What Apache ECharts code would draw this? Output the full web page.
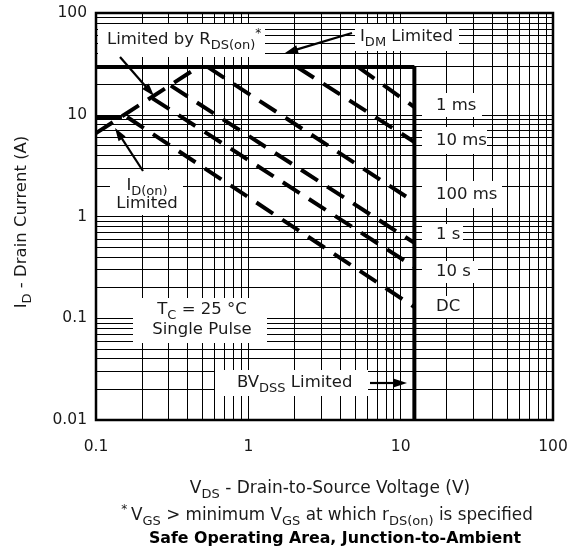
<!DOCTYPE html>
<html><head><meta charset="utf-8">
<script src="https://cdn.jsdelivr.net/npm/echarts@6/dist/echarts.min.js"></script>
<style>html,body{margin:0;padding:0;background:#fff}#c{width:574px;height:552px}</style>
</head><body><div id="c"></div>
<script>
// ---- axis ticks ----
const xTicks = [0.1, 1, 10, 100];
const xTickLabels = ['0.1', '1', '10', '100'];
const yTicks = [0.01, 0.1, 1, 10, 100];
const yTickLabels = ['0.01', '0.1', '1', '10', '100'];
const minorSteps = [2, 3, 4, 5, 6, 7, 8, 9];

// ---- limit lines [VDS (V), ID (A)] ----
const idmLimit = [[0.1, 29.5], [12.3, 29.5]];
const idOnLimit = [[0.1, 9.5], [0.148, 9.5]];
const rdsOnLimit = [[0.1, 6.6], [0.47, 29.5]];
const bvdssLimit = [[12.3, 0.01], [12.3, 29.5]];

// ---- pulse-width SOA lines ----
const pulseNames = ['1 ms', '10 ms', '100 ms', '1 s', '10 s', 'DC'];
const pulse1ms = [[5.25, 29.5], [12.3, 11.9]];
const pulse10ms = [[2.09, 29.5], [12.3, 5.4]];
const pulse100ms = [[0.54, 29.5], [12.3, 1.39]];
const pulse1s = [[0.31, 19.3], [12.3, 0.55]];
const pulse10s = [[0.235, 14.5], [12.3, 0.319]];
const pulseDC = [[0.16, 9.5], [12.3, 0.129]];
const pulseData = [pulse1ms, pulse10ms, pulse100ms, pulse1s, pulse10s, pulseDC];

const FONT = "'DejaVu Sans', sans-serif";
const TXT = '#1a1a1a';

function tickFormatter(ticks, labels) {
  return function (v) {
    for (let i = 0; i < ticks.length; i++) {
      if (Math.abs(Math.log10(ticks[i]) - Math.log10(v)) < 1e-6) return labels[i];
    }
    return '';
  };
}
function minorValues(ticks) {
  const out = [];
  ticks.slice(0, -1).forEach(d => minorSteps.forEach(k => out.push(d * k)));
  return out;
}

const thick = 4;
function solidSeries(name, data) {
  return { name, type: 'line', data, symbol: 'none', showSymbol: false, silent: true, z: 5,
    lineStyle: { color: '#000', width: thick, type: 'solid', cap: 'butt' } };
}
function dashedSeries(name, data) {
  return { name, type: 'line', data, symbol: 'none', showSymbol: false, silent: true, z: 5,
    lineStyle: { color: '#000', width: thick, type: [20, 11], cap: 'butt' } };
}

function richStyles(size) {
  return {
    n: { fontFamily: FONT, fontSize: size, lineHeight: 24, fill: TXT },
    s: { fontFamily: FONT, fontSize: Math.round(size * 0.76), lineHeight: 12, verticalAlign: 'bottom', fill: TXT },
    t: { fontFamily: FONT, fontSize: Math.round(size * 0.72), lineHeight: 18, verticalAlign: 'top', fill: TXT },
    u: { fontFamily: FONT, fontSize: Math.round(size * 0.72), lineHeight: 22, verticalAlign: 'top', fill: TXT },
    b: { fontFamily: FONT, fontSize: size, lineHeight: 24, fill: '#000', fontWeight: 'bold' }
  };
}
function label(x, y, text, align, size, extra) {
  size = size || 16.5;
  align = align || 'left';
  return Object.assign({
    type: 'text', z: 101, x, y,
    style: { text, rich: richStyles(size), align, textAlign: align,
      verticalAlign: 'middle', textVerticalAlign: 'middle', fill: TXT, fontFamily: FONT, fontSize: size }
  }, extra || {});
}
function box(x, y, w, h) {
  return { type: 'rect', z: 100, shape: { x, y, width: w, height: h }, style: { fill: '#fff' } };
}
function arrow(x1, y1, x2, y2) {
  const dx = x2 - x1, dy = y2 - y1, L = Math.hypot(dx, dy), ux = dx / L, uy = dy / L;
  const hl = 13, hw = 4.2;
  const bx = x2 - ux * hl, by = y2 - uy * hl;
  return [
    { type: 'line', z: 102, shape: { x1, y1, x2: bx + ux * 2, y2: by + uy * 2 }, style: { stroke: '#000', lineWidth: 2.2 } },
    { type: 'polygon', z: 102, shape: { points: [[x2, y2], [bx - uy * hw, by + ux * hw], [bx + uy * hw, by - ux * hw]] }, style: { fill: '#000' } }
  ];
}

const graphics = [
  // white label backgrounds
  box(98, 24, 167, 33),
  box(355, 24, 104, 27),
  box(110, 170, 73, 45),
  box(133, 298, 134, 45),
  box(215, 370, 153, 26),
  box(422, 93, 60, 24),
  box(422, 127, 65, 27),
  box(422, 181, 80, 27),
  box(422, 224, 41, 23),
  box(422, 261, 56, 22),
  box(422, 296, 46, 22),
  // in-plot labels
  label(107, 40, '{n|Limited by R}{s|DS(on)}{u|*}'),
  label(360, 37, '{n|I}{s|DM}{n| Limited}'),
  label(147, 186, '{n|I}{s|D(on)}', 'center'),
  label(147, 204, '{n|Limited}', 'center'),
  label(202, 310, '{n|T}{s|C}{n| = 25 °C}', 'center'),
  label(202, 330, '{n|Single Pulse}', 'center'),
  label(237, 383, '{n|BV}{s|DSS}{n| Limited}'),
  label(436, 106, '{n|' + pulseNames[0] + '}'),
  label(436, 141, '{n|' + pulseNames[1] + '}'),
  label(436, 195, '{n|' + pulseNames[2] + '}'),
  label(436, 235, '{n|' + pulseNames[3] + '}'),
  label(436, 272, '{n|' + pulseNames[4] + '}'),
  label(436, 307, '{n|' + pulseNames[5] + '}'),
  // axis titles, footnote, caption
  label(22, 222, '{n|I}{s|D}{n| - Drain Current (A)}', 'center', 16.5, { rotation: Math.PI / 2 }),
  label(330, 489, '{n|V}{s|DS}{n| - Drain-to-Source Voltage (V)}', 'center', 17),
  label(327, 516, '{t|* }{n|V}{s|GS}{n| > minimum V}{s|GS}{n| at which r}{s|DS(on)}{n| is specified}', 'center', 16.8),
  label(335, 539, '{b|Safe Operating Area, Junction-to-Ambient}', 'center', 15.8)
].concat(
  arrow(120, 57, 154, 96),
  arrow(352, 33, 285, 53),
  arrow(143, 171, 115, 128),
  arrow(370, 383, 407, 383)
);

const gridLineStyle = { color: '#000', width: 1, type: 'solid' };
const gridSeries = {
  name: 'grid', type: 'line', data: [[0.1, 0.01]], symbol: 'none', showSymbol: false, silent: true, z: 2,
  lineStyle: { opacity: 0 },
  markLine: {
    silent: true, symbol: ['none', 'none'], label: { show: false }, lineStyle: gridLineStyle,
    emphasis: { disabled: true },
    data: minorValues(xTicks).map(v => ({ xAxis: v })).concat(minorValues(yTicks).map(v => ({ yAxis: v })))
  }
};

const chart = echarts.init(document.getElementById('c'), null, { renderer: 'canvas' });
chart.setOption({
  animation: false,
  backgroundColor: '#fff',
  grid: { left: 96, right: 21, top: 13, bottom: 132, show: true, borderColor: '#000', borderWidth: 2.5, backgroundColor: '#fff' },
  xAxis: {
    type: 'log', logBase: 10, min: 0.1, max: 100,
    axisLine: { show: false }, axisTick: { show: false },
    splitLine: { show: true, lineStyle: gridLineStyle },
    axisLabel: { formatter: tickFormatter(xTicks, xTickLabels), fontFamily: FONT, fontSize: 15.5, color: TXT, margin: 19 }
  },
  yAxis: {
    type: 'log', logBase: 10, min: 0.01, max: 100,
    axisLine: { show: false }, axisTick: { show: false },
    splitLine: { show: true, lineStyle: gridLineStyle },
    axisLabel: { formatter: tickFormatter(yTicks, yTickLabels), fontFamily: FONT, fontSize: 15.5, color: TXT, margin: 9 }
  },
  series: [
    gridSeries,
    solidSeries('IDM Limited', idmLimit),
    solidSeries('ID(on) Limited', idOnLimit),
    dashedSeries('Limited by RDS(on)', rdsOnLimit),
    solidSeries('BVDSS Limited', bvdssLimit)
  ].concat(pulseData.map((d, i) => dashedSeries(pulseNames[i], d))),
  graphic: { elements: graphics }
});
</script>
</body></html>
